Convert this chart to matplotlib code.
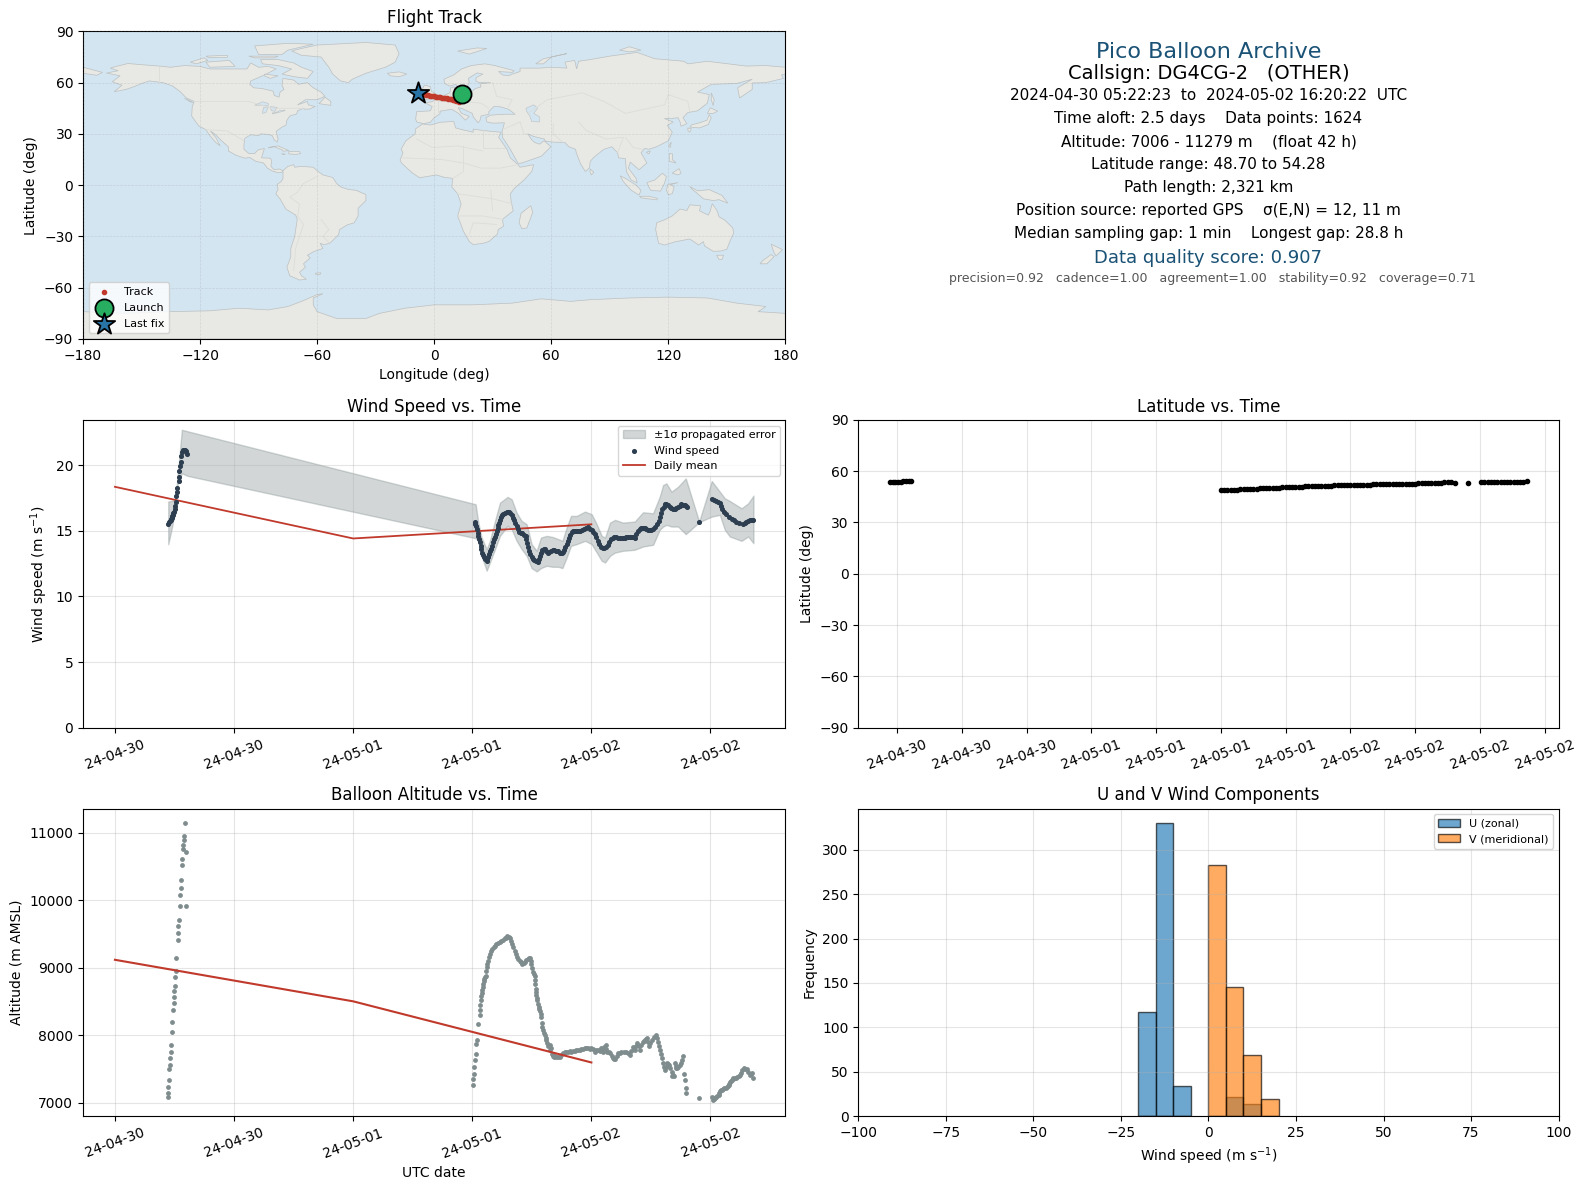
"""Pico balloon flight summary panel: DG4CG-2"""
import numpy as np
import matplotlib
matplotlib.use('Agg')
import matplotlib.pyplot as plt
import matplotlib.dates as mdates
from matplotlib.patches import Polygon

# colours
RED = '#c0392b'
NAVY = '#2c3e50'
SLATE = '#7f8c8d'
HEAD = '#1a5276'
OCEAN = '#d3e5f1'

# land outlines (lon, lat)
north_america = [(-168,65.6),(-164,66.5),(-162,67),(-166,68.5),(-163,69.5),(-157,71.2),(-150,70.5),(-141,69.7),(-135,69),(-128,70),(-120,69.5),(-115,68),(-108,68),(-100,68),(-96,68),(-94,71.5),(-90,69),(-85,69.5),(-81,68),(-87,64.5),(-94,61),(-94.5,59),(-92.5,57),(-88,56.5),(-82.5,55),(-82,52.5),(-79.5,51.5),(-79,54.5),(-77,56),(-78,58.5),(-77.5,62.5),(-72,61.5),(-69.5,59),(-65,60),(-62,57),(-58,54.5),(-56,52),(-60,50),(-66,50),(-70,47),(-65,49),(-64.5,47),(-61,46),(-64,44.5),(-66.5,44.5),(-67,45),(-70,43.5),(-70.5,41.7),(-74,40.5),(-75.5,38),(-76,35),(-78,34),(-81,31.5),(-80,27),(-80.5,25.2),(-82,26.5),(-83,29),(-85,29.7),(-89,30),(-90,29),(-94,29.5),(-97,27.5),(-97.5,24),(-97.5,21),(-95,18.5),(-92,18.5),(-90.5,20.5),(-87,21.5),(-88,18),(-88.5,16),(-84,15.8),(-83.3,14.5),(-83.7,11),(-82,9),(-79.5,9.5),(-77.5,8.5),(-78,7.5),(-80,7.3),(-83,8.3),(-85.5,10),(-87.5,13),(-91.5,14),(-94.5,16.2),(-97,15.8),(-101.5,17.5),(-105.5,20),(-105.5,22.5),(-109,26),(-112.5,30),(-114.7,31.7),(-112,28),(-109.7,23),(-112,25),(-115,29),(-117,32.5),(-120.5,34.5),(-122.5,37.5),(-124.3,40.5),(-124,46),(-123,49),(-127,51),(-130,54.5),(-134,58),(-139,60),(-146,61),(-150,59.5),(-153,58),(-158,56),(-164,54.7),(-160,58.5),(-165,60.5),(-161,64)]
south_america = [(-77.5,8.5),(-75,11),(-72,12),(-71.5,10.5),(-68,11),(-62,10.5),(-60,8.5),(-57,6),(-52,4.5),(-50,1),(-48,-1),(-44,-2.5),(-40,-3),(-35,-5.5),(-35,-9),(-39,-13.5),(-39,-18),(-41,-22),(-44.5,-23.2),(-48.5,-26),(-49,-29),(-53.5,-34),(-56.5,-34.8),(-58.5,-34),(-57,-37),(-62,-39),(-65,-41),(-63.5,-42.5),(-67,-46),(-66,-48),(-69,-51),(-68,-53),(-65.5,-55),(-69,-55.5),(-74,-53),(-75.5,-48),(-73.5,-42),(-73.5,-37),(-71.5,-30),(-70.2,-20),(-71,-17.5),(-76,-14),(-79,-8),(-81.2,-5),(-80,-2.5),(-80.5,0.5),(-78.5,2),(-77.5,4),(-77.5,7)]
africa = [(-6,35.8),(-2,35.2),(3,36.8),(10,37.3),(11,33.5),(15,32.3),(20,31),(20,32.8),(25,32),(32,31.2),(34.3,31),(33,28),(35.5,24),(37.3,21),(39,16),(43,12),(44,10.5),(51,12),(50,8),(46,3),(41,-2),(39,-5),(39.5,-10),(40.5,-15),(35,-20),(35.5,-24),(32.8,-26),(32.5,-28.5),(28,-33),(25,-34),(20,-34.8),(18,-33),(15,-27),(12,-18),(13.8,-11),(12,-5),(9,-1),(9.5,4),(5.5,4.5),(1,6),(-4,5),(-7.5,4.4),(-11,7),(-13.5,9.5),(-16.8,13),(-17.5,14.7),(-16,19),(-17,21),(-14.5,26),(-9.8,30),(-9.5,33)]
eurasia = [(-9,37),(-9.5,38.8),(-9,43),(-2,43.5),(-1,46),(-4.7,48.3),(-1.5,48.7),(1.5,50.5),(4,52),(8,54),(8.5,57),(10.5,57.5),(10.5,54.5),(14,54),(19,54.5),(21,56.5),(24,57.5),(23.5,59.3),(29,60),(23,60),(21.3,61),(21.5,63),(25,65),(22,65.7),(17.5,62.5),(18,60),(16.5,57),(14,55.5),(11,59),(8,58),(5.3,59.5),(5,62),(10,64.5),(14,68),(19,70),(26,71),(31,70),(41,67),(40,66),(33,66.5),(35,64.5),(38,64),(40,65),(44,66.5),(44,68.5),(54,68.5),(60,69),(68,68.5),(67,72),(72,73),(73,68),(74,72.5),(80,73.5),(90,75.5),(104,77.7),(113,74),(128,72.5),(130,71),(140,72.5),(160,69.7),(170,70),(180,69),(180,65),(178,64.5),(179,62.5),(170,60),(163,59.8),(163,56),(156.5,51),(155.5,57),(163,62),(155,59.5),(142,59),(135,54.5),(141,53),(140,48),(135,43.5),(130,42.5),(127.5,39.5),(129.5,36),(126.5,34.5),(126,37),(125,39.5),(121.5,39),(118,39),(122.5,37),(119.5,35),(122,31),(120,26),(114,22.5),(110,21),(108,21.5),(106,19),(109,13),(105,9),(103,11),(100.5,13.5),(99.5,10),(103.5,4),(104,1.3),(101,3),(98.5,8),(98,15.5),(94.5,16),(94,19),(91,22.5),(87,21),(82,16.5),(80,14),(79.5,10),(77.5,8),(75,12.5),(72.8,19),(72.5,21),(69,22.5),(67,25),(61,25.2),(57,25.8),(56.5,27),(51,28.5),(48,30),(50,26.5),(51.5,25),(54,24),(56.3,26),(59.8,22.5),(55,17),(45,13),(43,12.7),(39,21),(35,28),(34.8,31.5),(36,36.5),(30,36.3),(27,37),(26.5,39.5),(29,41),(36,41.5),(41.5,41.5),(38,44.5),(35,45.5),(33,46),(30.5,46),(28,43),(28,41.5),(24,40.5),(23.5,38),(22.5,36.5),(20,40),(19.5,42),(14,45),(12.3,45.3),(14,42),(18,40.3),(16,38),(12.5,42),(9,44.4),(3,43.3),(3,41.8),(0,39.5),(-2,36.8),(-5.5,36)]
australia = [(114,-22),(113.5,-26),(115,-34),(118,-35),(124,-33),(131,-31.5),(135.5,-35),(138,-33),(138.5,-35.5),(143,-38.7),(147,-38.5),(150,-37.5),(151.5,-33),(153.5,-28),(153,-25),(149,-20.5),(146,-18.5),(145,-15),(142.5,-10.8),(141.5,-15),(140.5,-17.5),(136,-15),(136.5,-12),(131,-11.5),(129.5,-14.8),(126,-14),(122,-18),(118,-20.3)]
antarctica = [(-180,-90),(-180,-74),(-160,-75),(-148,-74.5),(-135,-74),(-115,-73.5),(-100,-72),(-85,-73),(-75,-71),(-68,-68),(-60,-64),(-57,-63.5),(-62,-66),(-62,-70),(-60,-74),(-50,-78),(-35,-78),(-28,-75),(-15,-72),(0,-70),(20,-70),(40,-69),(55,-66.5),(70,-68),(80,-67),(100,-66),(120,-65.5),(140,-66),(155,-69),(170,-71),(166,-74),(180,-75),(180,-90)]
greenland = [(-73,78.5),(-68,80),(-60,82),(-35,83.5),(-20,82),(-18,77),(-20,72),(-25,69),(-35,65.5),(-42,62),(-44,60),(-48,61),(-52,65),(-54,69),(-58,75),(-68,76)]
chukotka = [(-180,69),(-175,67.5),(-170,66),(-173,64.3),(-180,65.5)]
baffin = [(-80,73.5),(-72,71.5),(-68,69),(-62,66.5),(-65,62.5),(-72,63.5),(-78,65),(-73,68),(-80,70),(-88,71),(-89,73.5)]
victoria_isl = [(-117,72),(-105,73),(-102,69.5),(-115,69)]
ellesmere = [(-90,76.5),(-78,76.5),(-75,79),(-62,82.5),(-75,83),(-92,81.5)]
banks_isl = [(-125,72),(-118,74.5),(-116,73),(-122,71)]
devon_isl = [(-95,75.5),(-80,75.5),(-82,74.5),(-92,74.5)]
melville_isl = [(-117,75.5),(-106,76),(-106,74.8),(-116,74.8)]
southampton = [(-87,65),(-80,64),(-84,62.5),(-87,64)]
newfoundland = [(-59,47.7),(-53,46.7),(-53,49),(-56,51.5)]
vancouver_isl = [(-128,50.8),(-123.5,48.4),(-125,48.7)]
iceland = [(-24,65.5),(-18,66.3),(-14,65),(-18,63.5),(-22.5,64)]
cuba = [(-85,22),(-80,23),(-74.5,20.2),(-77.5,19.9),(-78,20.7),(-82,22.5)]
hispaniola = [(-74.5,19.8),(-69,19.7),(-68.5,18.5),(-71,18),(-74.5,18.3)]
jamaica = [(-78.3,18.4),(-76.3,18.2),(-77,17.8)]
falklands = [(-61,-51.5),(-58,-51.3),(-58.5,-52.2),(-60.5,-52.3)]
madagascar = [(49.5,-12),(50.5,-16),(47.5,-25),(45,-25.5),(43.5,-22),(44.5,-16.5)]
britain = [(-5.5,50),(1.3,51.2),(1.7,52.7),(-1.5,55),(-2,57.7),(-5,58.6),(-6,56.5),(-3,54),(-5,52)]
ireland = [(-10,52),(-6.2,52.2),(-6,54.5),(-8,55.2),(-10,54)]
svalbard = [(12,78.5),(22,80.3),(27,80),(18,76.7)]
novaya_zemlya = [(52,71),(56,74),(68,77),(60,75),(56,71)]
severnaya = [(95,79),(100,81),(106,79),(100,78)]
sakhalin = [(142,54),(143.5,50),(143,46.5),(142,50)]
honshu = [(131,34),(136,33.5),(140.5,35.5),(142,39.5),(141,41.3),(139.8,38),(136,36.5),(132,35.3)]
hokkaido = [(140,42),(141.5,45.3),(145.3,43.3),(143,42)]
kyushu = [(130,33.5),(131.8,33),(131,31),(130,32)]
taiwan = [(120.2,23),(121.5,25.2),(121,22)]
hainan = [(108.7,19.3),(110.8,20),(110,18.3)]
sri_lanka = [(80,9.5),(81.8,7.5),(80.5,6),(79.8,8)]
luzon = [(120.5,18.5),(122.2,18.3),(122,15),(124,13),(120.5,14)]
mindanao = [(122,7),(125.5,9.7),(126.5,7),(125,6)]
borneo = [(109,1.5),(113,3),(117,7),(119,5),(118,1),(116,-3.5),(111,-3),(110,-1)]
sumatra = [(95.3,5.5),(98,4),(103.5,0),(106,-3),(105,-5.8),(101,-3),(97,2)]
java = [(105.2,-6.5),(110,-6.5),(114.5,-7.7),(114,-8.6),(106,-7.4)]
sulawesi = [(119.8,0.5),(125,1.5),(121,0.3),(123,-1),(122,-5),(120,-5.5),(119,-3)]
new_guinea = [(131,-0.8),(135,-3.3),(141,-2.6),(147.5,-6),(150.5,-10.5),(146,-8.5),(143,-9),(138,-8),(134,-4),(132.5,-2.7)]
tasmania = [(144.7,-41),(148.3,-41),(147.5,-43.5),(146,-43.5)]
nz_north = [(172.7,-34.5),(178.5,-37.7),(175.2,-41.5),(174,-39)]
nz_south = [(172.7,-40.6),(174.2,-41.8),(170.5,-46),(167,-46),(168.5,-44)]
land = [north_america, south_america, africa, eurasia, australia, antarctica, greenland, chukotka,
        baffin, victoria_isl, ellesmere, banks_isl, devon_isl, melville_isl, southampton, newfoundland,
        vancouver_isl, iceland, cuba, hispaniola, jamaica, falklands, madagascar, britain, ireland,
        svalbard, novaya_zemlya, severnaya, sakhalin, honshu, hokkaido, kyushu, taiwan, hainan,
        sri_lanka, luzon, mindanao, borneo, sumatra, java, sulawesi, new_guinea, tasmania, nz_north, nz_south]

# inland water
caspian = [(47,45),(51,47),(53,45),(51,42),(54,40),(54,37),(50,37.2),(49,40.5),(47.5,43)]
superior = [(-92,46.8),(-88,48.8),(-85,47.8),(-85,46.6),(-88,46.8)]
michigan = [(-88,42),(-87.5,45.5),(-85,45.8),(-86.3,42.5)]
huron = [(-84,46),(-80.5,45.5),(-81.7,43.2),(-83.5,43.7)]
erie_ontario = [(-83,41.7),(-79,42.8),(-76.5,43.6),(-76.5,44),(-79.5,43.5),(-80,43),(-83,42.2)]
water = [caspian, superior, michigan, huron, erie_ontario]

# a few faint borders
borders = [
    [(-141,69.7),(-141,60)], [(-123,49),(-95,49),(-83,45),(-75,45),(-67,45)],
    [(-117,32.5),(-106,31.7),(-97.5,26)], [(-70,-18),(-69,-11),(-74,-7),(-70,-4),(-67,1),(-60,5)],
    [(-58,-20),(-54,-26),(-57,-30),(-53.5,-34)], [(-70,-18),(-67,-23),(-71,-37),(-72,-50)],
    [(25,32),(25,22),(36.5,22)], [(-9,27),(-1,22),(12,23),(25,20)], [(15,23),(15,8),(9.5,4)],
    [(-16,16),(4,15),(15,13),(24,10),(34,10),(43,12)], [(12,-5),(30,-8),(40.5,-11)],
    [(12,-18),(25,-18),(35,-20)], [(18,-29),(20,-22),(32,-23)], [(29,-3),(30,-15)],
    [(30,60),(32,52),(40,50),(38,46)], [(48,42),(58,50),(76,54),(87,49)],
    [(87,49),(98,42),(118,47),(120,53),(130,49),(131,43)], [(61,36),(61,30),(66,25)],
    [(74,37),(78,32),(88,27),(97,28),(94,19)], [(98,28),(102,22),(107,21)],
    [(44,37),(46,30),(48,30)], [(36,33),(44,37)], [(2,43),(2,49),(8,49),(8,54)], [(14,54),(14,49),(24,48),(28,45)],
]

# hours since 2024-04-30 00:00 UTC
T0 = '2024-04-30'

wind_readings = [(5.37,15.51),(5.47,15.66),(5.53,15.75),(5.60,15.84),(5.65,15.93),(5.70,16.02),(5.75,16.12),(5.80,16.22),(5.85,16.33),(5.90,16.43),(6.00,16.68),(6.10,16.86),(6.17,17.24),(6.20,17.63),(6.24,17.96),(6.24,18.27),(6.41,18.83),(6.44,19.11),(6.47,19.54),(6.57,19.92),(6.61,20.26),(6.67,20.69),(6.74,21.02),(6.87,21.20),(7.01,21.20),(7.14,21.07),(7.27,20.89),
    (36.27,15.71),(36.32,15.55),(36.37,15.38),(36.45,15.12),(36.54,14.87),(36.60,14.62),(36.67,14.37),(36.75,14.12),(36.84,13.86),(36.92,13.60),(37.01,13.35),(37.11,13.15),(37.21,12.97),(37.33,12.82),(37.45,12.72),(37.53,12.85),(37.61,13.02),(37.72,13.22),(37.82,13.43),(37.92,13.65),(38.02,13.86),(38.12,14.12),(38.22,14.37),(38.30,14.55),(38.39,14.75),(38.47,15.00),(38.55,15.25),(38.62,15.45),(38.69,15.63),(38.79,15.85),(38.89,16.06),(39.01,16.22),(39.13,16.32),(39.30,16.40),(39.46,16.44),(39.60,16.47),(39.73,16.47),(39.85,16.36),(39.97,16.22),(40.08,16.02),(40.20,15.81),(40.33,15.60),(40.47,15.38),(40.60,15.15),(40.74,14.95),(40.89,14.87),(41.04,14.80),(41.21,14.72),(41.38,14.62),(41.46,14.36),(41.55,14.11),(41.65,13.80),(41.75,13.48),(41.86,13.25),(41.98,13.02),(42.11,12.88),(42.25,12.77),(42.42,12.70),(42.59,12.64),(42.70,12.85),(42.82,13.10),(42.94,13.32),(43.06,13.53),(43.20,13.60),(43.33,13.61),(43.46,13.48),(43.60,13.35),(43.76,13.42),(43.93,13.48),(44.10,13.52),(44.27,13.53),(44.47,13.48),(44.67,13.43),(44.84,13.35),(45.01,13.28),(45.12,13.40),(45.24,13.53),(45.37,13.75),(45.51,13.99),(45.63,14.25),(45.75,14.49),(45.88,14.72),(46.02,14.95),(46.18,15.00),(46.35,15.00),(46.48,14.98),(46.60,15.00),(46.73,15.00),(46.86,15.00),(47.07,15.08),(47.29,15.18),(47.46,15.25),(47.63,15.30),(47.83,15.18),(48.03,15.05),(48.20,14.90),(48.37,14.75),(48.50,14.50),(48.64,14.24),(48.80,14.00),(48.97,13.78),(49.14,13.70),(49.31,13.68),(49.48,13.80),(49.65,13.94),(49.82,14.15),(49.98,14.37),(50.15,14.47),(50.32,14.54),(50.52,14.52),(50.72,14.49),(50.88,14.46),(51.05,14.47),(51.20,14.48),(51.36,14.49),(51.53,14.50),(51.70,14.50),(51.86,14.51),(52.03,14.52),(52.20,14.50),(52.37,14.49),(52.54,14.75),(52.71,15.00),(52.88,15.15),(53.04,15.25),(53.21,15.23),(53.38,15.20),(53.55,15.14),(53.71,15.08),(53.88,15.05),(54.05,15.03),(54.22,15.18),(54.39,15.33),(54.60,15.55),(54.82,15.76),(54.94,16.05),(55.06,16.34),(55.16,16.67),(55.27,16.85),(55.39,17.03),(55.56,17.02),(55.73,16.98),(55.90,16.85),(56.07,16.72),(56.24,16.68),(56.40,16.65),(56.57,16.72),(56.74,16.80),(56.91,16.92),(57.08,17.03),(57.25,17.01),(57.41,16.98),(57.55,16.92),(57.68,16.85),
    (58.86,15.68),
    (60.13,17.43),(60.33,17.36),(60.54,17.28),(60.74,17.22),(60.94,17.15),(61.08,16.90),(61.21,16.65),(61.41,16.45),(61.61,16.27),(61.86,16.08),(62.12,15.91),(62.37,15.80),(62.62,15.71),(62.92,15.60),(63.23,15.51),(63.43,15.60),(63.63,15.71),(63.80,15.78),(63.97,15.84),(64.15,15.84),(64.33,15.84)]

band_hours = [5.37,5.80,6.07,6.30,6.74,7.30,36.34,36.61,36.94,37.45,37.78,38.29,38.79,39.56,39.97,40.47,40.97,41.48,41.98,42.49,42.92,43.50,44.07,44.67,45.08,45.51,45.95,46.52,47.36,48.03,48.54,49.04,49.38,49.88,50.39,51.19,52.37,53.21,54.22,54.89,55.23,55.56,56.07,56.74,57.51,58.86,60.13,60.94,61.45,61.95,63.13,63.80,64.33]
band_high = [17.24,17.30,17.40,19.03,22.71,22.60,17.03,15.63,14.49,13.61,14.24,15.76,17.15,17.59,17.41,16.39,15.76,15.51,13.99,13.48,14.49,14.62,14.54,14.37,14.24,15.25,16.14,16.14,16.47,16.27,15.51,14.62,14.49,15.63,15.84,15.63,15.71,16.42,16.34,17.61,18.50,18.62,17.99,18.37,19.00,15.71,18.80,17.99,17.48,17.28,16.72,17.10,17.69]
band_low = [13.98,15.46,17.10,18.50,19.40,19.20,14.44,14.24,13.10,11.96,12.59,13.61,14.62,15.38,15.13,14.24,13.61,13.10,12.16,11.91,12.16,12.34,12.26,12.26,12.16,12.97,13.86,13.99,14.24,13.99,13.35,12.72,12.59,13.10,13.35,13.48,13.56,13.81,13.94,15.08,15.33,15.46,15.33,15.33,14.75,15.66,16.09,16.22,15.08,14.57,14.24,14.57,14.06]

mean_hours = [0, 24, 48]
wind_daily = [18.36, 14.42, 15.5]
alt_daily = [9120, 8505, 7600]

alt_readings = [(5.37,7084),(5.37,7143),(5.37,7232),(5.47,7335),(5.47,7498),(5.57,7557),(5.57,7660),(5.67,7749),(5.67,7852),(5.77,8044),(5.77,8192),(5.87,8384),(5.97,8473),(5.97,8576),(5.97,8665),(6.07,8739),(6.07,8872),(6.17,8961),(6.17,9153),(6.37,9419),(6.37,9522),(6.37,9621),(6.47,9714),(6.57,9921),(7.17,9921),(6.57,10084),(6.67,10187),(6.67,10305),(6.77,10527),(6.77,10616),(7.17,10719),(6.87,10764),(6.87,10823),(6.97,10897),(6.97,10956),(7.07,11148),
    (36.05,7260),(36.10,7350),(36.13,7430),(36.18,7530),(36.30,7640),(36.37,7721),(36.40,7868),(36.47,7932),(36.60,8162),(36.74,8309),(36.74,8373),(36.80,8456),(36.85,8520),(36.90,8584),(36.95,8625),(37.00,8667),(37.05,8716),(37.10,8765),(37.15,8800),(37.20,8838),(37.27,8862),(37.34,8887),(37.40,8950),(37.47,9010),(37.53,9060),(37.60,9108),(37.68,9160),(37.77,9206),(37.89,9245),(38.01,9279),(38.14,9305),(38.27,9328),(38.44,9350),(38.61,9368),(38.78,9385),(38.94,9402),(39.11,9420),(39.28,9436),(39.41,9450),(39.54,9466),(39.66,9452),(39.78,9436),(39.90,9395),(40.01,9353),(40.15,9305),(40.28,9255),(40.40,9205),(40.51,9157),(40.65,9130),(40.78,9108),(40.92,9082),(41.05,9059),(41.17,9075),(41.28,9093),(41.45,9112),(41.62,9132),(41.74,9140),(41.85,9147),(41.90,9100),(41.95,9059),(42.03,9000),(42.12,8936),(42.20,8910),(42.29,8887),(42.32,8825),(42.35,8765),(42.39,8691),(42.42,8650),(42.45,8603),(42.50,8560),(42.55,8520),(42.62,8470),(42.69,8422),(42.74,8390),(42.79,8358),(42.88,8315),(42.96,8275),(43.02,8177),(43.07,8130),(43.12,8079),(43.20,8040),(43.29,8005),(43.38,7968),(43.46,7932),(43.54,7890),(43.62,7848),
    (43.79,7858),(43.85,7790),(43.96,7809),(44.03,7720),(44.10,7700),(44.19,7686),(44.33,7700),(44.46,7686),(44.63,7675),(44.80,7677),(44.97,7711),(45.14,7740),(45.30,7760),(45.47,7750),(45.64,7760),(45.81,7765),(45.98,7760),(46.15,7770),(46.31,7775),(46.48,7785),(46.65,7784),(46.82,7790),(46.99,7794),(47.16,7800),(47.33,7809),(47.50,7820),(47.66,7819),(47.83,7800),(48.00,7809),(48.17,7800),(48.34,7760),(48.50,7780),(48.67,7784),(48.84,7775),(49.01,7809),(49.10,7790),(49.18,7760),(49.32,7830),(49.45,7858),(49.52,7800),(49.58,7760),(49.75,7750),(49.92,7735),(50.06,7700),(50.19,7662),(50.31,7650),(50.43,7647),(50.56,7690),(50.70,7735),(50.87,7745),(51.03,7760),(51.25,7750),(51.47,7760),(51.68,7740),(51.88,7711),(52.02,7770),(52.15,7833),(52.26,7800),(52.38,7784),(52.50,7840),(52.62,7892),(52.75,7840),(52.89,7784),(53.02,7860),(53.16,7907),(53.28,7915),(53.39,7931),(53.48,7945),(53.56,7956),(53.68,7900),(53.80,7843),(53.94,7890),(54.07,7931),(54.28,7970),(54.50,8005),(54.62,7960),(54.74,7907),(54.82,7845),(54.91,7784),(55.00,7720),(55.08,7662),(55.18,7588),(55.30,7530),(55.41,7481),(55.53,7540),(55.65,7598),(55.75,7580),(55.85,7564),(55.97,7515),(56.09,7466),(56.09,7402),(56.20,7410),(56.33,7402),(56.43,7588),(56.48,7550),(56.53,7515),(56.65,7525),(56.76,7539),(56.88,7565),(57.00,7588),(57.10,7640),(57.20,7696),(57.37,7432),(57.44,7343),(57.54,7221),(57.54,7147),(58.89,7074),
    (60.20,7084),(60.30,7050),(60.37,7064),(60.48,7075),(60.60,7090),(60.70,7105),(60.81,7123),(60.90,7148),(60.98,7170),(61.06,7185),(61.14,7196),(61.27,7210),(61.40,7220),(61.52,7228),(61.65,7236),(61.74,7255),(61.82,7270),(61.90,7288),(61.99,7304),(62.07,7322),(62.15,7340),(62.24,7355),(62.32,7368),(62.44,7372),(62.55,7375),(62.69,7385),(62.83,7392),(62.96,7420),(63.10,7450),(63.22,7485),(63.34,7515),(63.50,7508),(63.67,7500),(63.80,7455),(63.94,7417),(64.06,7430),(64.18,7441),(64.33,7368)]

lat_hours = [5.37,5.6,5.85,6.1,6.35,6.6,6.85,7.1,7.3,
    36.0,36.3,36.6,36.9,37.2,37.5,37.8,38.1,38.4,38.7,39.0,39.3,39.6,39.9,40.2,40.5,40.8,41.1,41.4,41.7,42.0,42.3,42.6,42.9,43.2,43.5,43.8,44.1,44.4,44.7,45.0,45.3,45.6,45.9,46.2,46.5,46.8,47.1,47.4,47.7,48.0,48.3,48.6,48.9,49.2,49.5,49.8,50.1,50.4,50.7,51.0,51.3,51.6,51.9,52.2,52.5,52.8,53.1,53.4,53.7,54.0,54.3,54.6,54.9,55.2,55.5,55.8,56.1,56.4,56.7,57.0,57.3,57.7,
    58.86,
    60.07,60.4,60.7,61.0,61.3,61.6,61.9,62.2,62.5,62.8,63.1,63.4,63.7,64.0,64.33]
lat_deg = [53.6,53.6,53.6,53.7,53.8,54.0,54.1,54.2,54.2,
    48.8,48.9,49.0,49.1,49.2,49.3,49.4,49.5,49.5,49.6,49.7,49.8,49.9,50.1,50.2,50.3,50.3,50.4,50.4,50.6,50.7,50.8,50.9,50.9,51.0,51.0,51.1,51.2,51.3,51.4,51.4,51.5,51.5,51.6,51.6,51.7,51.7,51.8,51.8,51.9,51.9,52.0,52.0,52.1,52.1,52.2,52.2,52.3,52.3,52.4,52.4,52.5,52.5,52.5,52.6,52.6,52.7,52.7,52.7,52.8,52.8,52.9,52.9,53.0,53.1,53.1,53.2,53.3,53.3,53.4,53.4,53.4,53.3,
    53.1,
    53.4,53.5,53.6,53.6,53.7,53.7,53.7,53.8,53.8,53.8,53.8,53.9,53.9,53.9,54.1]

track_lon = [14.5,14.2,13.8,12.6,12.0,11.2,10.4,9.6,8.8,8.0,7.2,6.4,5.6,4.8,4.0,3.2,2.4,1.6,0.8,0.0,-0.8,-1.6,-2.4,-3.2,-4.0,-4.8,-5.6,-6.4,-7.2,-8.3]
track_lat = [53.4,53.5,53.6,48.8,49.2,49.5,49.8,50.0,50.2,50.4,50.6,50.8,50.9,51.1,51.2,51.4,51.5,51.7,51.8,51.9,52.0,52.2,52.4,52.6,52.8,53.1,53.3,53.5,53.7,53.9]
launch_lon, launch_lat = 14.5, 53.4
last_lon, last_lat = -8.3, 53.9

bin_edges = np.arange(-100, 101, 5)
bin_left = [-20, -15, -10, 0, 5, 10, 15]
u_counts = [117, 330, 34, 0, 22, 14, 0]
v_counts = [0, 0, 0, 283, 145, 69, 19]

info_lines = [
    ('2024-04-30 05:22:23  to  2024-05-02 16:20:22  UTC', 93),
    ('Time aloft: 2.5 days    Data points: 1624', 116),
    ('Altitude: 7006 - 11279 m    (float 42 h)', 139),
    ('Latitude range: 48.70 to 54.28', 162),
    ('Path length: 2,321 km', 184),
    ('Position source: reported GPS    \u03c3(E,N) = 12, 11 m', 207),
    ('Median sampling gap: 1 min    Longest gap: 28.8 h', 230),
]

WIDE, TALL = 1568, 1175  # working canvas for the layout numbers


def to_dates(hours):
    return mdates.date2num(np.datetime64(T0)) + np.array(hours) / 24


def place(x0, y0, x1, y1):
    return fig.add_axes([x0 / WIDE, 1 - y1 / TALL, (x1 - x0) / WIDE, (y1 - y0) / TALL])


def style_time(ax, tick_hours, h0, h1):
    ax.set_xlim(to_dates([h0, h1]))
    ax.set_xticks(to_dates(tick_hours))
    ax.xaxis.set_major_formatter(mdates.DateFormatter('%y-%m-%d'))
    ax.tick_params(axis='x', labelrotation=20)
    ax.grid(True, alpha=0.33)


fig = plt.figure(figsize=(15.87, 11.89), dpi=100)

# flight track
ax = place(82, 31, 776, 335)
ax.set_facecolor(OCEAN)
for shape in land:
    ax.add_patch(Polygon(shape, closed=True, facecolor='#e8e8e4', edgecolor='#bcc0c0', linewidth=0.5, zorder=1))
for shape in water:
    ax.add_patch(Polygon(shape, closed=True, facecolor=OCEAN, edgecolor='#bcc0c0', linewidth=0.4, zorder=1.1))
for line in borders:
    xy = np.array(line)
    ax.plot(xy[:, 0], xy[:, 1], color='#dcdcd9', linewidth=0.6, zorder=1.2)
ax.scatter(track_lon, track_lat, s=9, color=RED, zorder=3, label='Track')
ax.scatter(launch_lon, launch_lat, s=170, color='#27ae60', edgecolor='k', linewidth=1.3, zorder=4, label='Launch')
ax.scatter(last_lon, last_lat, s=260, marker='*', color='#2874a6', edgecolor='k', linewidth=1.3, zorder=5, label='Last fix')
ax.set_xlim(-180, 180)
ax.set_ylim(-90, 90)
ax.set_xticks(np.arange(-180, 181, 60))
ax.set_yticks(np.arange(-90, 91, 30))
ax.grid(True, linestyle='--', linewidth=0.5, color='gray', alpha=0.2, zorder=2)
ax.set_axisbelow(False)
ax.set_xlabel('Longitude (deg)')
ax.set_ylabel('Latitude (deg)')
ax.set_title('Flight Track')
ax.legend(loc='lower left', fontsize=8, labelspacing=0.55, borderaxespad=0.5)

# header block
fx = 1194 / WIDE
fig.text(fx, 1 - 51 / TALL, 'Pico Balloon Archive', ha='center', va='center', fontsize=16, color=HEAD)
fig.text(fx, 1 - 73 / TALL, 'Callsign: DG4CG-2   (OTHER)', ha='center', va='center', fontsize=14)
for txt, yy in info_lines:
    fig.text(fx, 1 - (yy + 1) / TALL, txt, ha='center', va='center', fontsize=11)
fig.text(fx, 1 - 255 / TALL, 'Data quality score: 0.907', ha='center', va='center', fontsize=13, color=HEAD)
fig.text(1198 / WIDE, 1 - 275 / TALL, 'precision=0.92   cadence=1.00   agreement=1.00   stability=0.92   coverage=0.71',
         ha='center', va='center', fontsize=9, color='#555555')

# wind speed
wind_hours, wind_speed = zip(*wind_readings)
ax = place(82, 415, 776, 719)
ax.fill_between(to_dates(band_hours), band_low, band_high, color=SLATE, alpha=0.35, label='\u00b11\u03c3 propagated error')
ax.scatter(to_dates(wind_hours), wind_speed, s=7, color=NAVY, zorder=3, label='Wind speed')
ax.plot(to_dates(mean_hours), wind_daily, color=RED, linewidth=1.3, label='Daily mean')
style_time(ax, np.arange(0, 61, 12), -3.22, 67.55)
ax.set_ylim(0, 23.46)
ax.set_yticks(np.arange(0, 21, 5))
ax.set_ylabel('Wind speed (m s$^{-1}$)')
ax.set_title('Wind Speed vs. Time')
ax.legend(loc='upper right', fontsize=8)

# latitude
ax = place(848, 415, 1540, 719)
ax.scatter(to_dates(lat_hours), lat_deg, s=9, color='k', zorder=3)
style_time(ax, np.arange(6, 67, 6), 2.42, 67.28)
ax.set_ylim(-90, 90)
ax.set_yticks(np.arange(-90, 91, 30))
ax.set_ylabel('Latitude (deg)')
ax.set_title('Latitude vs. Time')

# altitude
alt_hours, alt_m = zip(*alt_readings)
ax = place(82, 799, 776, 1103)
ax.scatter(to_dates(alt_hours), alt_m, s=6, color=SLATE, zorder=3)
ax.plot(to_dates(mean_hours), alt_daily, color=RED, linewidth=1.5, zorder=4)
style_time(ax, np.arange(0, 61, 12), -3.22, 67.55)
ax.set_ylim(6805, 11360)
ax.set_yticks(np.arange(7000, 11001, 1000))
ax.set_xlabel('UTC date')
ax.set_ylabel('Altitude (m AMSL)')
ax.set_title('Balloon Altitude vs. Time')

# U and V histogram
ax = place(848, 799, 1540, 1103)
ax.bar(bin_left, u_counts, width=5, align='edge', color='#1f77b4', alpha=0.65, edgecolor='k', label='U (zonal)')
ax.bar(bin_left, v_counts, width=5, align='edge', color='#ff7f0e', alpha=0.65, edgecolor='k', label='V (meridional)')
ax.set_xlim(bin_edges[0], bin_edges[-1])
ax.set_ylim(0, 346.5)
ax.grid(True, alpha=0.33)
ax.set_xlabel('Wind speed (m s$^{-1}$)')
ax.set_ylabel('Frequency')
ax.set_title('U and V Wind Components')
ax.legend(loc='upper right', fontsize=8)

fig.savefig('out.png', dpi=100)
